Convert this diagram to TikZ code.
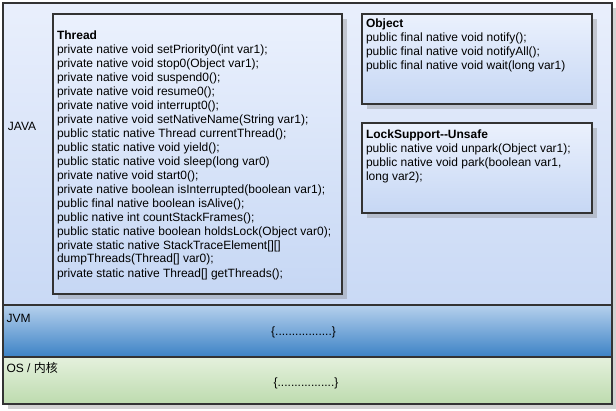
\documentclass[tikz,border=0pt]{standalone}
\usepackage{fontspec}
\setmainfont{Liberation Sans}
\newfontfamily\cjkfont{Noto Sans CJK SC}
\usetikzlibrary{shadows}
\definecolor{bordercol}{HTML}{333333}
\definecolor{javatop}{HTML}{E9EFFC}
\definecolor{javabot}{HTML}{C9D9F5}
\definecolor{inntop}{HTML}{EBF1FD}
\definecolor{innbot}{HTML}{C6D7F4}
\definecolor{jvmtop}{HTML}{B7D1ED}
\definecolor{jvmbot}{HTML}{3D83C6}
\definecolor{ostop}{HTML}{E5F1DE}
\definecolor{osbot}{HTML}{BDDBAE}
\begin{document}
\begin{tikzpicture}[x=1pt,y=-1pt,
  box/.style={draw=bordercol, line width=2pt, inner sep=0pt, outer sep=0pt,
    anchor=north west,
    drop shadow={shadow xshift=5pt, shadow yshift=-5pt, opacity=0.35}},
  txt/.style={inner sep=0pt, outer sep=0pt, anchor=north west, align=left,
    font=\fontsize{12}{14}\selectfont},
  lbl/.style={inner sep=0pt, outer sep=0pt, anchor=base west,
    font=\fontsize{12}{14}\selectfont},
  dots/.style={inner sep=0pt, outer sep=0pt, anchor=base,
    font=\fontsize{12}{14}\selectfont}]
\useasboundingbox (0,0) rectangle (616,410);
\fill[white] (0,0) rectangle (616,410);

% layers
\node[box, top color=javatop, bottom color=javabot,
  minimum width=609.5pt, minimum height=301.5pt] (java) at (2.5,3) {};
\node[box, top color=jvmtop, bottom color=jvmbot,
  minimum width=609.5pt, minimum height=52pt] (jvm) at (2.5,304.5) {};
\node[box, top color=ostop, bottom color=osbot,
  minimum width=609.5pt, minimum height=47.5pt] (os) at (2.5,356.5) {};

% inner boxes
\node[box, top color=inntop, bottom color=innbot,
  minimum width=289.5pt, minimum height=280pt] (thread) at (52.5,14) {};
\node[box, top color=inntop, bottom color=innbot,
  minimum width=230pt, minimum height=90pt] (object) at (362,14) {};
\node[box, top color=inntop, bottom color=innbot,
  minimum width=230pt, minimum height=90pt] (lock) at (362,123) {};

% texts
\node[lbl] (javalbl) at (8,130) {JAVA};
\node[lbl] (jvmlbl) at (6.5,322) {JVM};
\node[lbl] (oslbl) at (6.5,372) {OS / {\cjkfont 内核}};
\node[dots] (jvmdots) at (303.5,335) {\{.................\}};
\node[dots] (osdots) at (306,386) {\{.................\}};

\node[txt] (threadtxt) at (57,30.3) {\textbf{Thread}\\
private native void setPriority0(int var1);\\
private native void stop0(Object var1);\\
private native void suspend0();\\
private native void resume0();\\
private native void interrupt0();\\
private native void setNativeName(String var1);\\
public static native Thread currentThread();\\
public static native void yield();\\
public static native void sleep(long var0)\\
private native void start0();\\
private native boolean isInterrupted(boolean var1);\\
public final native boolean isAlive();\\
public native int countStackFrames();\\
public static native boolean holdsLock(Object var0);\\
private static native StackTraceElement[][]\\
dumpThreads(Thread[] var0);\\
private static native Thread[] getThreads();};

\node[txt] (objecttxt) at (366,19.3) {\textbf{Object}\\
public final native void notify();\\
public final native void notifyAll();\\
public final native void wait(long var1)};

\node[txt] (locktxt) at (366,130.3) {\textbf{LockSupport-{}-Unsafe}\\
public native void unpark(Object var1);\\
public native void park(boolean var1,\\
long var2);};
\end{tikzpicture}
\end{document}
